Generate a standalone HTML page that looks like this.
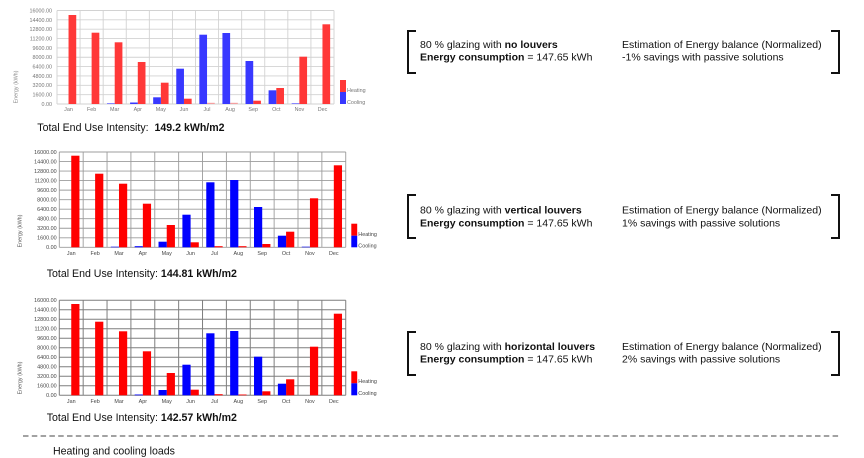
<!DOCTYPE html>
<html><head><meta charset="utf-8"><style>
html,body{margin:0;padding:0;background:#fff;}
svg{display:block;}
text{font-family:"Liberation Sans",Arial,sans-serif;}
.t{font-size:5.4px;}
.big{font-size:10.6px;fill:#111;}
.rt{font-size:10.5px;fill:#111;}
</style></head><body>
<svg width="864" height="458" viewBox="0 0 864 458" xmlns="http://www.w3.org/2000/svg">
<rect width="864" height="458" fill="#fff"/>

<!-- ============ CHART 1 ============ -->
<g stroke="#d2d2d2" stroke-width="0.9" fill="none">
<path d="M57 10.5H334M57 19.85H334M57 29.2H334M57 38.55H334M57 47.9H334M57 57.25H334M57 66.6H334M57 75.95H334M57 85.3H334M57 94.65H334M57 104H334"/>
<path d="M57 10.5V104M80.08 10.5V104M103.17 10.5V104M126.25 10.5V104M149.33 10.5V104M172.42 10.5V104M195.5 10.5V104M218.58 10.5V104M241.67 10.5V104M264.75 10.5V104M287.83 10.5V104M310.92 10.5V104M334 10.5V104"/>
</g>
<g class="t" fill="#777" text-anchor="end">
<text x="52" y="12.4">16000.00</text><text x="52" y="21.75">14400.00</text><text x="52" y="31.1">12800.00</text><text x="52" y="40.45">11200.00</text><text x="52" y="49.8">9600.00</text><text x="52" y="59.15">8000.00</text><text x="52" y="68.5">6400.00</text><text x="52" y="77.85">4800.00</text><text x="52" y="87.2">3200.00</text><text x="52" y="96.55">1600.00</text><text x="52" y="105.9">0.00</text>
</g>
<g class="t" fill="#777" text-anchor="middle">
<text x="68.5" y="110.9">Jan</text><text x="91.6" y="110.9">Feb</text><text x="114.7" y="110.9">Mar</text><text x="137.8" y="110.9">Apr</text><text x="160.9" y="110.9">May</text><text x="184" y="110.9">Jun</text><text x="207" y="110.9">Jul</text><text x="230.1" y="110.9">Aug</text><text x="253.2" y="110.9">Sep</text><text x="276.3" y="110.9">Oct</text><text x="299.4" y="110.9">Nov</text><text x="322.5" y="110.9">Dec</text>
</g>
<text class="t" fill="#888" text-anchor="middle" transform="translate(17.5 87) rotate(-90)">Energy (kWh)</text>
<g fill="#ff3838">
<rect x="68.54" y="15" width="7.7" height="89"/><rect x="91.62" y="32.7" width="7.7" height="71.3"/><rect x="114.71" y="42.3" width="7.7" height="61.7"/><rect x="137.79" y="62" width="7.7" height="42"/><rect x="160.87" y="82.7" width="7.7" height="21.3"/><rect x="183.96" y="98.7" width="7.7" height="5.3"/><rect x="253.21" y="100.7" width="7.7" height="3.3"/><rect x="276.29" y="88" width="7.7" height="16"/><rect x="299.37" y="56.7" width="7.7" height="47.3"/><rect x="322.46" y="24.3" width="7.7" height="79.7"/>
</g>
<g fill="#f4a0a0"><rect x="207.04" y="102.8" width="7.7" height="1.2"/><rect x="230.12" y="102.8" width="7.7" height="1.2"/></g>
<g fill="#3838ff">
<rect x="107.01" y="103.4" width="7.7" height="0.6"/><rect x="130.09" y="102.5" width="7.7" height="1.5"/><rect x="153.17" y="97.3" width="7.7" height="6.7"/><rect x="176.26" y="68.7" width="7.7" height="35.3"/><rect x="199.34" y="34.7" width="7.7" height="69.3"/><rect x="222.42" y="33" width="7.7" height="71"/><rect x="245.51" y="61" width="7.7" height="43"/><rect x="268.59" y="90.3" width="7.7" height="13.7"/><rect x="291.67" y="103.4" width="7.7" height="0.6"/>
</g>
<rect x="340" y="80" width="6" height="12" fill="#ff3838"/><rect x="340" y="92" width="6" height="12" fill="#3838ff"/>
<text class="t" fill="#777" x="347" y="92">Heating</text><text class="t" fill="#777" x="347" y="104.2">Cooling</text>
<text class="big" x="37.3" y="130.8">Total End Use Intensity:&#160; <tspan font-weight="bold">149.2 kWh/m2</tspan></text>

<!-- ============ CHART 2 ============ -->
<g stroke="#9c9c9c" stroke-width="0.9" fill="none">
<path d="M59.3 152H345.74M59.3 161.53H345.74M59.3 171.06H345.74M59.3 180.59H345.74M59.3 190.12H345.74M59.3 199.65H345.74M59.3 209.18H345.74M59.3 218.71H345.74M59.3 228.24H345.74M59.3 237.77H345.74M59.3 247.3H345.74"/>
<path d="M59.3 152V247.3M83.17 152V247.3M107.04 152V247.3M130.91 152V247.3M154.78 152V247.3M178.65 152V247.3M202.52 152V247.3M226.39 152V247.3M250.26 152V247.3M274.13 152V247.3M298 152V247.3M321.87 152V247.3M345.74 152V247.3"/>
</g>
<g class="t" fill="#444" text-anchor="end">
<text x="56.6" y="153.9">16000.00</text><text x="56.6" y="163.43">14400.00</text><text x="56.6" y="172.96">12800.00</text><text x="56.6" y="182.49">11200.00</text><text x="56.6" y="192.02">9600.00</text><text x="56.6" y="201.55">8000.00</text><text x="56.6" y="211.08">6400.00</text><text x="56.6" y="220.61">4800.00</text><text x="56.6" y="230.14">3200.00</text><text x="56.6" y="239.67">1600.00</text><text x="56.6" y="249.2">0.00</text>
</g>
<g class="t" fill="#444" text-anchor="middle">
<text x="71.24" y="255.2">Jan</text><text x="95.11" y="255.2">Feb</text><text x="118.98" y="255.2">Mar</text><text x="142.85" y="255.2">Apr</text><text x="166.72" y="255.2">May</text><text x="190.59" y="255.2">Jun</text><text x="214.46" y="255.2">Jul</text><text x="238.33" y="255.2">Aug</text><text x="262.2" y="255.2">Sep</text><text x="286.07" y="255.2">Oct</text><text x="309.94" y="255.2">Nov</text><text x="333.81" y="255.2">Dec</text>
</g>
<text class="t" fill="#555" text-anchor="middle" transform="translate(21.5 231) rotate(-90)">Energy (kWh)</text>
<g fill="#ff0000">
<rect x="71.25" y="155.7" width="8.2" height="91.6"/><rect x="95.12" y="173.7" width="8.2" height="73.6"/><rect x="118.99" y="183.7" width="8.2" height="63.6"/><rect x="142.86" y="203.7" width="8.2" height="43.6"/><rect x="166.73" y="225" width="8.2" height="22.3"/><rect x="190.6" y="242.3" width="8.2" height="5"/><rect x="214.47" y="246.2" width="8.2" height="1.1"/><rect x="238.34" y="246.2" width="8.2" height="1.1"/><rect x="262.21" y="244" width="8.2" height="3.3"/><rect x="286.08" y="231.7" width="8.2" height="15.6"/><rect x="309.95" y="198.3" width="8.2" height="49"/><rect x="333.82" y="165.3" width="8.2" height="82"/>
</g>
<g fill="#0000ff">
<rect x="110.79" y="246.7" width="8.2" height="0.6"/><rect x="134.66" y="246.2" width="8.2" height="1.1"/><rect x="158.53" y="241.7" width="8.2" height="5.6"/><rect x="182.4" y="214.7" width="8.2" height="32.6"/><rect x="206.27" y="182.3" width="8.2" height="65"/><rect x="230.14" y="180" width="8.2" height="67.3"/><rect x="254.01" y="207" width="8.2" height="40.3"/><rect x="277.88" y="235.7" width="8.2" height="11.6"/><rect x="301.75" y="246.7" width="8.2" height="0.6"/>
</g>
<rect x="351.3" y="223.7" width="5.9" height="12" fill="#ff0000"/><rect x="351.3" y="235.7" width="5.9" height="11.6" fill="#0000ff"/>
<text class="t" fill="#444" x="358.3" y="235.9">Heating</text><text class="t" fill="#444" x="358.3" y="247.6">Cooling</text>
<text class="big" x="46.7" y="277">Total End Use Intensity: <tspan font-weight="bold">144.81 kWh/m2</tspan></text>

<!-- ============ CHART 3 ============ -->
<g stroke="#7e7e7e" stroke-width="1" fill="none">
<path d="M59.3 300.3H345.74M59.3 309.8H345.74M59.3 319.3H345.74M59.3 328.8H345.74M59.3 338.3H345.74M59.3 347.8H345.74M59.3 357.3H345.74M59.3 366.8H345.74M59.3 376.3H345.74M59.3 385.8H345.74M59.3 395.3H345.74"/>
<path d="M59.3 300.3V395.3M83.17 300.3V395.3M107.04 300.3V395.3M130.91 300.3V395.3M154.78 300.3V395.3M178.65 300.3V395.3M202.52 300.3V395.3M226.39 300.3V395.3M250.26 300.3V395.3M274.13 300.3V395.3M298 300.3V395.3M321.87 300.3V395.3M345.74 300.3V395.3"/>
</g>
<g class="t" fill="#444" text-anchor="end">
<text x="56.6" y="302.2">16000.00</text><text x="56.6" y="311.7">14400.00</text><text x="56.6" y="321.2">12800.00</text><text x="56.6" y="330.7">11200.00</text><text x="56.6" y="340.2">9600.00</text><text x="56.6" y="349.7">8000.00</text><text x="56.6" y="359.2">6400.00</text><text x="56.6" y="368.7">4800.00</text><text x="56.6" y="378.2">3200.00</text><text x="56.6" y="387.7">1600.00</text><text x="56.6" y="397.2">0.00</text>
</g>
<g class="t" fill="#444" text-anchor="middle">
<text x="71.24" y="402.9">Jan</text><text x="95.11" y="402.9">Feb</text><text x="118.98" y="402.9">Mar</text><text x="142.85" y="402.9">Apr</text><text x="166.72" y="402.9">May</text><text x="190.59" y="402.9">Jun</text><text x="214.46" y="402.9">Jul</text><text x="238.33" y="402.9">Aug</text><text x="262.2" y="402.9">Sep</text><text x="286.07" y="402.9">Oct</text><text x="309.94" y="402.9">Nov</text><text x="333.81" y="402.9">Dec</text>
</g>
<text class="t" fill="#555" text-anchor="middle" transform="translate(21.5 378) rotate(-90)">Energy (kWh)</text>
<g fill="#ff0000">
<rect x="71.25" y="304" width="8.2" height="91.3"/><rect x="95.12" y="321.7" width="8.2" height="73.6"/><rect x="118.99" y="331.3" width="8.2" height="64"/><rect x="142.86" y="351.3" width="8.2" height="44"/><rect x="166.73" y="373" width="8.2" height="22.3"/><rect x="190.6" y="389.7" width="8.2" height="5.6"/><rect x="214.47" y="394.2" width="8.2" height="1.1"/><rect x="238.34" y="394.5" width="8.2" height="0.8"/><rect x="262.21" y="391.3" width="8.2" height="4"/><rect x="286.08" y="379.3" width="8.2" height="16"/><rect x="309.95" y="346.7" width="8.2" height="48.6"/><rect x="333.82" y="313.7" width="8.2" height="81.6"/>
</g>
<g fill="#0000ff">
<rect x="134.66" y="394.5" width="8.2" height="0.8"/><rect x="158.53" y="390" width="8.2" height="5.3"/><rect x="182.4" y="364.7" width="8.2" height="30.6"/><rect x="206.27" y="333.3" width="8.2" height="62"/><rect x="230.14" y="331" width="8.2" height="64.3"/><rect x="254.01" y="356.7" width="8.2" height="38.6"/><rect x="277.88" y="383.7" width="8.2" height="11.6"/>
</g>
<rect x="351.3" y="371.3" width="5.9" height="12" fill="#ff0000"/><rect x="351.3" y="383.3" width="5.9" height="12" fill="#0000ff"/>
<text class="t" fill="#444" x="358.3" y="382.9">Heating</text><text class="t" fill="#444" x="358.3" y="395.2">Cooling</text>
<text class="big" x="46.7" y="421">Total End Use Intensity: <tspan font-weight="bold">142.57 kWh/m2</tspan></text>

<!-- ============ BRACKETS & TEXT ============ -->
<g fill="none" stroke="#111" stroke-width="2">
<path d="M416 31H408V73H416"/><path d="M831 31H839V73H831"/>
<path d="M416 195H408V238H416"/><path d="M831 195H839V238H831"/>
<path d="M416 332H408V375H416"/><path d="M831 332H839V375H831"/>
</g>
<g class="rt">
<text x="420" y="48">80 % glazing with <tspan font-weight="bold">no louvers</tspan></text>
<text x="420" y="60.7"><tspan font-weight="bold">Energy consumption</tspan> = 147.65 kWh</text>
<text x="622" y="48">Estimation of Energy balance (Normalized)</text>
<text x="622" y="60.7">-1% savings with passive solutions</text>

<text x="420" y="213.7">80 % glazing with <tspan font-weight="bold">vertical louvers</tspan></text>
<text x="420" y="226.4"><tspan font-weight="bold">Energy consumption</tspan> = 147.65 kWh</text>
<text x="622" y="213.7">Estimation of Energy balance (Normalized)</text>
<text x="622" y="226.4">1% savings with passive solutions</text>

<text x="420" y="350.2">80 % glazing with <tspan font-weight="bold">horizontal louvers</tspan></text>
<text x="420" y="362.6"><tspan font-weight="bold">Energy consumption</tspan> = 147.65 kWh</text>
<text x="622" y="350.2">Estimation of Energy balance (Normalized)</text>
<text x="622" y="362.6">2% savings with passive solutions</text>
</g>

<!-- dashed separator -->
<line x1="23" y1="436" x2="841" y2="436" stroke="#444" stroke-width="1" stroke-dasharray="5.5 3.3"/>
<text class="big" x="53" y="454.5">Heating and cooling loads</text>
</svg>
</body></html>
